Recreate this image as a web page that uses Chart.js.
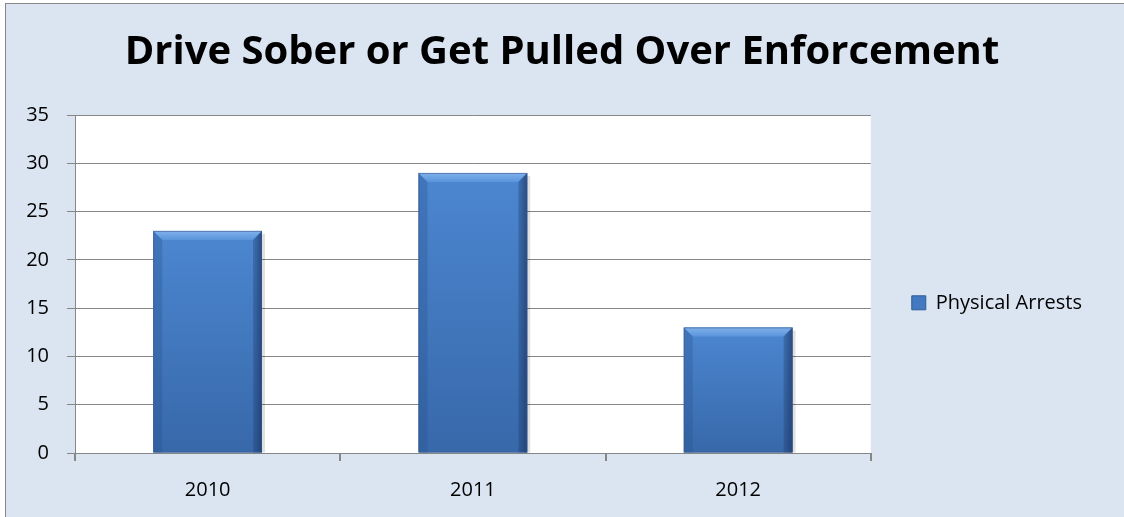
<!DOCTYPE html>
<html>
<head>
<meta charset="utf-8">
<script src="https://cdn.jsdelivr.net/npm/chart.js@4/dist/chart.umd.min.js"></script>
<style>
  html, body { margin: 0; padding: 0; background: #ffffff; overflow: hidden; }
  #frame {
    position: absolute; left: 5px; top: 3px;
    width: 1130px; height: 520px;
    border: 1px solid #868686;
    background: #dbe5f1;
  }
  #wrap { position: absolute; left: 0; top: 0; width: 1118px; height: 513px; }
</style>
</head>
<body>
<div id="frame"><div id="wrap"><canvas id="arrestChart"></canvas></div></div>
<script>
const years = ['2010', '2011', '2012'];
const physicalArrests = [23, 29, 13];
const yTicks = [0, 5, 10, 15, 20, 25, 30, 35];

document.addEventListener('DOMContentLoaded', function() {
    // white plot area
    const plotBackground = {
        id: 'plotBackground',
        beforeDraw(chart) {
            const a = chart.chartArea;
            chart.ctx.save();
            chart.ctx.fillStyle = '#ffffff';
            chart.ctx.fillRect(a.left, a.top, a.right - a.left, a.bottom - a.top);
            chart.ctx.restore();
        }
    };

    // bevel look on the bars, Excel style
    const bevelBars = {
        id: 'bevelBars',
        afterDatasetsDraw(chart) {
            const ctx = chart.ctx;
            chart.getDatasetMeta(0).data.forEach(bar => {
                const p = bar.getProps(['x', 'y', 'base', 'width'], true);
                const l = p.x - p.width / 2, r = p.x + p.width / 2;
                const t = p.y, b = p.base, e = 9;
                ctx.save();
                // soft shadow
                ctx.fillStyle = 'rgba(0,0,0,0.12)';
                ctx.fillRect(l + 3, t + 3, p.width, b - t - 3);
                // body
                const g = ctx.createLinearGradient(0, t, 0, b);
                g.addColorStop(0, '#4c87d0');
                g.addColorStop(1, '#3768aa');
                ctx.fillStyle = g;
                ctx.fillRect(l, t, p.width, b - t);
                // top bevel
                ctx.beginPath();
                ctx.moveTo(l, t); ctx.lineTo(r, t); ctx.lineTo(r - e, t + e); ctx.lineTo(l + e, t + e);
                ctx.closePath();
                const gt = ctx.createLinearGradient(0, t, 0, t + e);
                gt.addColorStop(0, '#80b2ec');
                gt.addColorStop(1, '#5a94dc');
                ctx.fillStyle = gt;
                ctx.fill();
                // left bevel
                ctx.beginPath();
                ctx.moveTo(l, t); ctx.lineTo(l + e, t + e); ctx.lineTo(l + e, b); ctx.lineTo(l, b);
                ctx.closePath();
                ctx.fillStyle = 'rgba(40,80,140,0.3)';
                ctx.fill();
                // right bevel
                ctx.beginPath();
                ctx.moveTo(r, t); ctx.lineTo(r - e, t + e); ctx.lineTo(r - e, b); ctx.lineTo(r, b);
                ctx.closePath();
                const gr = ctx.createLinearGradient(r - e, 0, r, 0);
                gr.addColorStop(0, 'rgba(30,60,110,0.3)');
                gr.addColorStop(1, 'rgba(25,50,95,0.7)');
                ctx.fillStyle = gr;
                ctx.fill();
                // outline
                ctx.strokeStyle = 'rgba(60,90,140,0.6)';
                ctx.lineWidth = 1;
                ctx.strokeRect(l + 0.5, t + 0.5, p.width - 1, b - t - 1);
                ctx.restore();
            });
        }
    };

    const ctx = document.getElementById('arrestChart').getContext('2d');
    new Chart(ctx, {
        type: 'bar',
        data: {
            labels: years,
            datasets: [{
                label: 'Physical Arrests',
                data: physicalArrests,
                backgroundColor: '#4279c0',
                borderColor: '#2f5b94',
                borderWidth: 1,
                categoryPercentage: 1,
                barPercentage: 0.41
            }]
        },
        options: {
            responsive: true,
            maintainAspectRatio: false,
            animation: false,
            events: [],
            layout: { padding: { left: 0, right: 6, top: 0, bottom: 0 } },
            plugins: {
                title: {
                    display: true,
                    text: 'Drive Sober or Get Pulled Over Enforcement',
                    color: '#000000',
                    font: { family: 'Open Sans', size: 40, weight: 'bold' },
                    padding: { top: 25, bottom: 38 }
                },
                legend: {
                    position: 'right',
                    fullSize: false,
                    title: { display: true, text: ' ', font: { size: 18 }, padding: 8 },
                    labels: {
                        color: '#000000',
                        font: { family: 'Open Sans', size: 20 },
                        boxWidth: 14,
                        boxHeight: 14,
                        padding: 41,
                        // trailing room so the legend column is as wide as Excel's
                        generateLabels(chart) {
                            const items = Chart.defaults.plugins.legend.labels.generateLabels(chart);
                            items.forEach(it => { it.text = it.text + '     '; });
                            return items;
                        }
                    }
                },
                tooltip: { enabled: false }
            },
            scales: {
                x: {
                    afterFit(scale) { scale.height = 64; },
                    grid: {
                        drawOnChartArea: false,
                        drawTicks: true,
                        tickLength: 8,
                        color: '#868686',
                        lineWidth: 2
                    },
                    border: { color: '#868686', width: 1 },
                    ticks: {
                        color: '#000000',
                        font: { family: 'Open Sans', size: 20 },
                        padding: 17
                    }
                },
                y: {
                    min: 0,
                    max: 35,
                    afterFit(scale) { scale.width = 69; },
                    afterBuildTicks(scale) { scale.ticks = yTicks.map(v => ({ value: v })); },
                    grid: {
                        color: '#868686',
                        lineWidth: 1,
                        tickLength: 8
                    },
                    border: { color: '#868686', width: 1 },
                    ticks: {
                        color: '#000000',
                        font: { family: 'Open Sans', size: 20 },
                        padding: 18
                    }
                }
            }
        },
        plugins: [plotBackground, bevelBars]
    });
});
</script>
</body>
</html>
